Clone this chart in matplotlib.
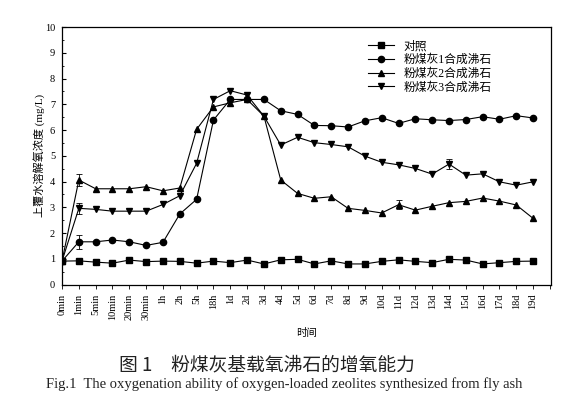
import matplotlib
matplotlib.use('Agg')
import matplotlib.pyplot as plt
import numpy as np

plt.rcParams['font.family'] = ['Liberation Serif', 'Noto Sans CJK SC', 'DejaVu Sans']

times = ['0min', '1min', '5min', '10min', '20min', '30min', '1h', '2h', '5h', '18h',
         '1d', '2d', '3d', '4d', '5d', '6d', '7d', '8d', '9d', '10d', '11d', '12d',
         '13d', '14d', '15d', '16d', '17d', '18d', '19d']

control = [0.91, 0.92, 0.87, 0.83, 0.95, 0.89, 0.91, 0.90, 0.83, 0.91, 0.85, 0.95, 0.80,
           0.96, 0.98, 0.80, 0.92, 0.80, 0.80, 0.90, 0.96, 0.90, 0.85, 0.98, 0.95, 0.80,
           0.85, 0.90, 0.91]
fa1 = [0.91, 1.66, 1.66, 1.73, 1.66, 1.52, 1.64, 2.74, 3.31, 6.39, 7.19, 7.19, 7.19,
       6.75, 6.61, 6.18, 6.17, 6.12, 6.36, 6.48, 6.26, 6.44, 6.40, 6.37, 6.41, 6.52,
       6.42, 6.56, 6.47]
fa2 = [0.91, 4.06, 3.72, 3.72, 3.72, 3.80, 3.64, 3.75, 6.03, 6.90, 7.06, 7.19, 6.54,
       4.06, 3.54, 3.35, 3.41, 2.96, 2.88, 2.78, 3.10, 2.89, 3.04, 3.18, 3.23, 3.36,
       3.24, 3.09, 2.57]
fa3 = [0.91, 2.96, 2.92, 2.85, 2.85, 2.85, 3.11, 3.45, 4.71, 7.19, 7.53, 7.36, 6.54,
       5.42, 5.72, 5.51, 5.44, 5.35, 4.99, 4.75, 4.65, 4.51, 4.29, 4.68, 4.25, 4.30,
       3.99, 3.86, 3.99]

# error bars (only the visible ones): index -> error
err1 = {1: 0.28}
err2 = {1: 0.25, 20: 0.17}
err3 = {1: 0.22, 23: 0.18}

labels = ['对照', '粉煤灰1合成沸石', '粉煤灰2合成沸石', '粉煤灰3合成沸石']

fig = plt.figure(figsize=(5.69, 3.93), dpi=100)
ax = fig.add_axes([0.109, 0.276, 0.859, 0.655])

x = np.arange(len(times))
series = [(control, {}, 's'), (fa1, err1, 'o'), (fa2, err2, '^'), (fa3, err3, 'v')]
for (vals, err, mk), lab in zip(series, labels):
    ax.plot(x, vals, marker=mk, color='black', lw=0.8, ms=4.5, label=lab)
    if err:
        idx = list(err.keys())
        ax.errorbar(idx, [vals[i] for i in idx], yerr=list(err.values()), fmt='none',
                    ecolor='black', elinewidth=0.6, capsize=2, capthick=0.6)

ax.set_xlim(0, 29.05)
ax.set_ylim(0, 10)
ax.set_xticks(list(x) + [29])
ax.set_xticklabels(times + [''], rotation=90, fontsize=7.5)
ax.set_yticks(range(0, 11))
ax.set_yticks(np.arange(0.5, 10, 1), minor=True)
ax.tick_params(axis='y', direction='in', labelsize=7.5, length=3, pad=5)
ax.tick_params(axis='y', which='minor', direction='in', length=1.5)
ax.tick_params(axis='x', direction='out', length=3, width=0.6)
for s in ax.spines.values():
    s.set_linewidth(0.9)

ax.set_xlabel('时间', fontsize=7.5, labelpad=6)
ax.set_ylabel('上覆水溶解氧浓度 (mg/L)', fontsize=8, labelpad=0)

ax.legend(loc='upper left', bbox_to_anchor=(0.6, 1.0), frameon=False,
          fontsize=8.5, handlelength=2.2, labelspacing=0.15, borderaxespad=0.7)

fig.text(0.47, 0.072, '图 1　粉煤灰基载氧沸石的增氧能力', ha='center', va='center',
         fontsize=13.5, family=['Noto Sans CJK SC', 'DejaVu Sans'], color='#222222')
fig.text(0.5, 0.004, 'Fig.1  The oxygenation ability of oxygen-loaded zeolites synthesized from fly ash',
         ha='center', va='bottom', fontsize=10.5, color='#222222')

fig.savefig('out.png', dpi=100)
